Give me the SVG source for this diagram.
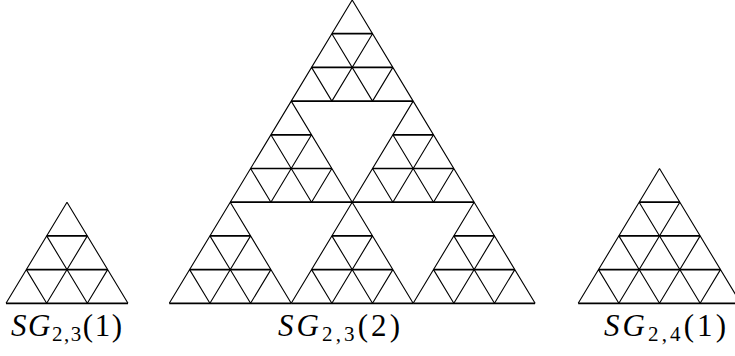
<svg xmlns="http://www.w3.org/2000/svg" xmlns:xlink="http://www.w3.org/1999/xlink" width="735" height="356" viewBox="0 0 735 356">
<style>
.h{stroke:#000;stroke-width:1.7;fill:none}
.d{stroke:#000;stroke-width:1.1;fill:none}
.lbl{font-family:"Liberation Serif","Times New Roman",serif;font-size:31px;fill:#000}
.it{font-style:italic}
.sub{font-size:21px}
</style>
<defs>
<g id="t3">
<path class="h" d="M-20.325,33.7H20.325M-40.65,67.4H40.65M-60.975,101.1H60.975"/>
<path class="d" d="M0,0L-60.975,101.1M20.325,33.7L-20.325,101.1M40.65,67.4L20.325,101.1M0,0L60.975,101.1M-20.325,33.7L20.325,101.1M-40.65,67.4L-20.325,101.1"/>
</g>
<g id="t4">
<path class="h" d="M-20.325,33.7H20.325M-40.65,67.4H40.65M-60.975,101.1H60.975M-81.3,134.8H81.3"/>
<path class="d" d="M0,0L-81.3,134.8M20.325,33.7L-40.65,134.8M40.65,67.4L0,134.8M60.975,101.1L40.65,134.8M0,0L81.3,134.8M-20.325,33.7L40.65,134.8M-40.65,67.4L0,134.8M-60.975,101.1L-40.65,134.8"/>
</g>
</defs>
<g id="sg23-1">
<use xlink:href="#t3" transform="translate(67,202.2)"/>
<text class="lbl" x="11" y="336" textLength="111" lengthAdjust="spacing"><tspan class="it">SG</tspan><tspan class="sub" dy="5">2,3</tspan><tspan dy="-5">(1)</tspan></text>
</g>
<g id="sg23-2">
<use xlink:href="#t3" transform="translate(352.2,0)"/>
<use xlink:href="#t3" transform="translate(291.225,101.1)"/>
<use xlink:href="#t3" transform="translate(413.175,101.1)"/>
<use xlink:href="#t3" transform="translate(230.25,202.2)"/>
<use xlink:href="#t3" transform="translate(352.2,202.2)"/>
<use xlink:href="#t3" transform="translate(474.15,202.2)"/>
<text class="lbl" x="278" y="336" textLength="122" lengthAdjust="spacing"><tspan class="it">SG</tspan><tspan class="sub" dy="5">2,3</tspan><tspan dy="-5">(2)</tspan></text>
</g>
<g id="sg24-1">
<use xlink:href="#t4" transform="translate(659.5,168.5)"/>
<text class="lbl" x="604" y="336" textLength="122" lengthAdjust="spacing"><tspan class="it">SG</tspan><tspan class="sub" dy="5">2,4</tspan><tspan dy="-5">(1)</tspan></text>
</g>
</svg>
